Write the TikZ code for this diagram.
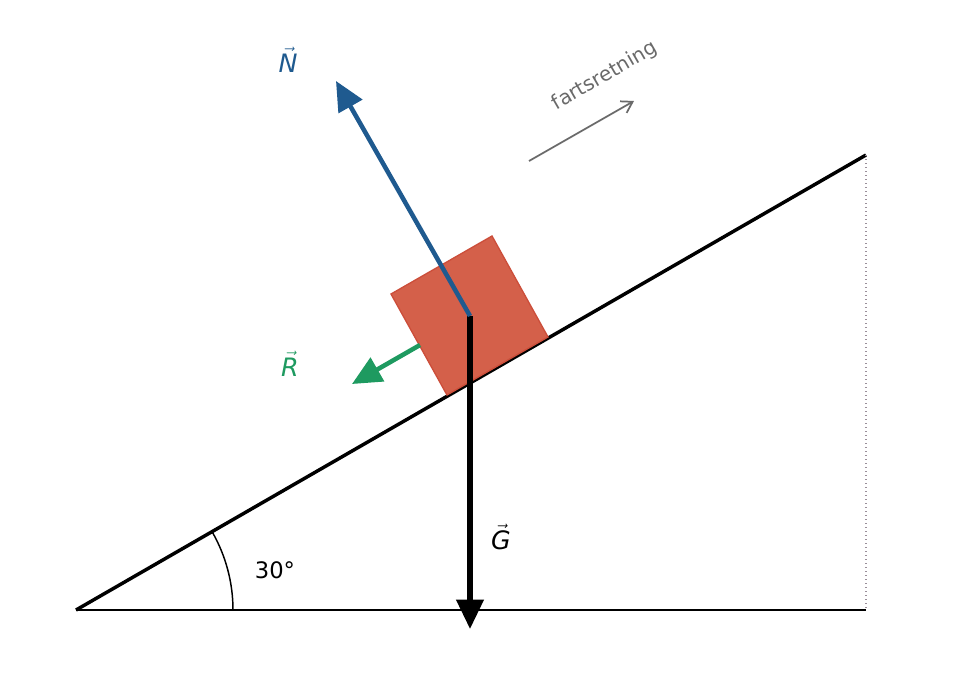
\documentclass[tikz,border=0pt]{standalone}
\usepackage{fontspec}
\setmainfont{DejaVu Sans}
\usetikzlibrary{arrows.meta}
\definecolor{blk}{HTML}{D4604A}
\definecolor{blkedge}{HTML}{CC4E3A}
\definecolor{nblue}{HTML}{1F5A8F}
\definecolor{rgreen}{HTML}{1E9A60}
\definecolor{fgray}{HTML}{6A6A6A}
\definecolor{dgray}{HTML}{9A8F9A}
\tikzset{
  force/.style={line width=3.8pt,-{Triangle[length=22pt,width=20pt]}},
  lbl/.style={font=\fontsize{19}{22}\selectfont}
}
\begin{document}
\begin{tikzpicture}[x=0.75pt,y=-0.75pt]
\useasboundingbox[fill=white] (0,0) rectangle (975,690);
\coordinate (O) at (76,610);
\coordinate (B) at (866,610);
\coordinate (T) at (866,155);
\draw[line width=1.3pt] (O) -- (B);
\draw[line width=2.6pt] (O) -- (T);
\draw[dgray,dotted,line width=1pt] (T) -- (B);
\draw[line width=1.1pt] ([shift={(157,0)}]O) arc[start angle=0,end angle=-30,radius=157];
\node[font=\fontsize{17}{20}\selectfont] (ang) at (275,570) {30°};
\draw[fill=blk,draw=blkedge,line width=1pt] (447,395) -- (548,337) -- (492,236) -- (391,294) -- cycle;
\coordinate (C) at (470,316);
\coordinate (Gt) at (470,629);
\coordinate (Nt) at (336,81);
\coordinate (Rs) at (420,345);
\coordinate (Rt) at (352,384);
\draw[force] (C) -- (Gt);
\draw[force,nblue,line width=3.4pt] (C) -- (Nt);
\draw[force,rgreen,line width=3.4pt] (Rs) -- (Rt);
\node[lbl] (G) at (501,537) {$\vec{\textit{G}}$};
\node[lbl,text=nblue] (N) at (288,60) {$\vec{\textit{N}}$};
\node[lbl,text=rgreen] (R) at (290,364) {$\vec{\textit{R}}$};
\coordinate (F1) at (529,161);
\coordinate (F2) at (634,101);
\draw[fgray,line width=1.3pt,-{Straight Barb[length=8pt,width=10pt]}] (F1) -- (F2);
\node[text=fgray,rotate=30,font=\fontsize{15}{17}\selectfont] (f) at (605,76) {fartsretning};
\end{tikzpicture}
\end{document}
